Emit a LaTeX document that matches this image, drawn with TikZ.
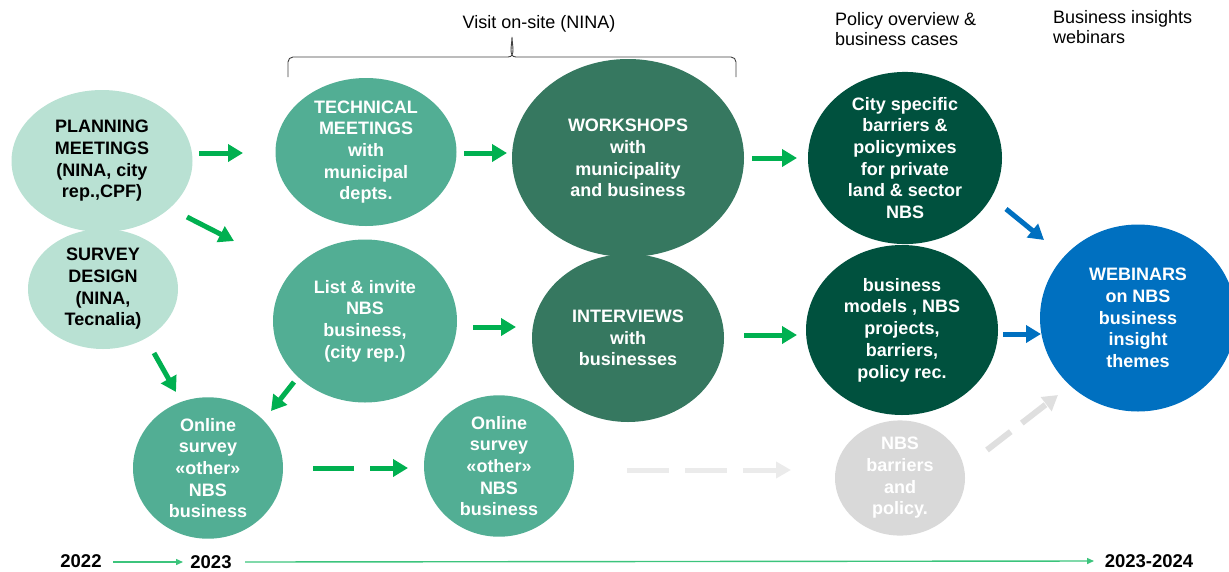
\documentclass[tikz,border=0pt]{standalone}
\usepackage{fontspec}
\setmainfont{Liberation Sans}
\usetikzlibrary{shapes.geometric,arrows.meta}
\definecolor{cLight}{HTML}{B9E1D3}
\definecolor{cMed}{HTML}{52AE94}
\definecolor{cDark}{HTML}{367860}
\definecolor{cDarkest}{HTML}{00513E}
\definecolor{cBlue}{HTML}{0070C0}
\definecolor{cGray}{HTML}{D9D9D9}
\definecolor{cArrow}{HTML}{00B050}
\definecolor{cTime}{HTML}{3CC47C}
\tikzset{
  blob/.style={ellipse, draw=none, inner sep=0pt, align=center,
    font=\fontsize{18}{21.7}\selectfont\bfseries},
  garrow/.style={draw=cArrow, line width=5pt, -{Triangle[length=15pt,width=17pt]}},
  barrow/.style={draw=cBlue, line width=5pt, -{Triangle[length=15pt,width=17pt]}},
  tarrow/.style={draw=cTime, line width=1.4pt, -{Triangle[length=7pt,width=6pt]}},
  hdr/.style={font=\fontsize{18}{20.5}\selectfont, align=left, anchor=north west, inner sep=0pt},
  year/.style={font=\fontsize{18.5}{22}\selectfont\bfseries, inner sep=0pt},
}
\begin{document}
\begin{tikzpicture}[x=1pt,y=-1pt]
\useasboundingbox (0,0) rectangle (1229,571);
% nodes
\node[blob, fill=cLight, minimum width=150pt, minimum height=120pt] (survey) at (103,289) {SURVEY\\DESIGN\\(NINA,\\Tecnalia)};
\node[blob, fill=cLight, minimum width=181pt, minimum height=142pt] (plan) at (102,161) {PLANNING\\MEETINGS\\(NINA, city\\rep.,CPF)};
\node[blob, fill=cMed, text=white, minimum width=181pt, minimum height=148pt] (tech) at (366,152) {TECHNICAL\\MEETINGS\\with\\municipal\\depts.};
\node[blob, fill=cMed, text=white, minimum width=184pt, minimum height=163pt] (list) at (365,321) {List \& invite\\NBS\\business,\\(city rep.)};
\node[blob, fill=cDark, text=white, minimum width=192pt, minimum height=168pt] (inter) at (628,338) {INTERVIEWS\\with\\businesses};
\node[blob, fill=cDark, text=white, minimum width=232pt, minimum height=198pt] (work) at (628,158) {WORKSHOPS\\with\\municipality\\and business};
\node[blob, fill=cMed, text=white, minimum width=150pt, minimum height=134pt] (on1) at (208,468) {Online\\survey\\«other»\\NBS\\business};
\node[blob, fill=cMed, text=white, minimum width=150pt, minimum height=136pt] (on2) at (499,466) {Online\\survey\\«other»\\NBS\\business};
\node[blob, fill=cDarkest, text=white, minimum width=192pt, minimum height=170pt] (bm) at (902,330) {business\\models , NBS\\projects,\\barriers,\\policy rec.};
\node[blob, fill=cDarkest, text=white, minimum width=194pt, minimum height=170pt] (city) at (905,158) {City specific\\barriers \&\\policymixes\\for private\\land \& sector\\NBS};
\node[blob, fill=cGray, text=white, minimum width=130pt, minimum height=114pt] (nbs) at (900,478) {NBS\\barriers\\and\\policy.};
\node[blob, fill=cBlue, text=white, minimum width=196pt, minimum height=187pt] (web) at (1138,318) {WEBINARS\\on NBS\\business\\insight\\themes};

% arrow end points
\coordinate (a1s) at (199,153); \coordinate (a1e) at (243,153);
\coordinate (a2s) at (187,217); \coordinate (a2e) at (234,241);
\coordinate (a3s) at (464,153); \coordinate (a3e) at (507,153);
\coordinate (a4s) at (752,158); \coordinate (a4e) at (797,158);
\coordinate (a5s) at (473,327); \coordinate (a5e) at (516,327);
\coordinate (a6s) at (744,335); \coordinate (a6e) at (797,335);
\coordinate (a7s) at (1006,209); \coordinate (a7e) at (1044,240);
\coordinate (a8s) at (1003,334); \coordinate (a8e) at (1041,334);
\coordinate (a9s) at (154,353); \coordinate (a9e) at (176,392);
\coordinate (a10s) at (294,382); \coordinate (a10e) at (271,411);
\coordinate (a11s) at (313,468); \coordinate (a11e) at (408,468);
\coordinate (a12s) at (627,470); \coordinate (a12e) at (791,470);
\coordinate (a13s) at (987,450); \coordinate (a13e) at (1058,395);

\draw[garrow] (a1s) -- (a1e);
\draw[garrow] (a2s) -- (a2e);
\draw[garrow] (a3s) -- (a3e);
\draw[garrow] (a4s) -- (a4e);
\draw[garrow] (a5s) -- (a5e);
\draw[garrow] (a6s) -- (a6e);
\draw[barrow] (a7s) -- (a7e);
\draw[barrow] (a8s) -- (a8e);
\draw[garrow] (a9s) -- (a9e);
\draw[garrow] (a10s) -- (a10e);
\draw[garrow, dash pattern=on 41pt off 16pt] (a11s) -- (a11e);
\draw[draw=black!8, line width=5pt, dash pattern=on 42pt off 16pt, -{Triangle[length=15pt,width=16pt]}] (a12s) -- (a12e);
\draw[draw=cGray!85, line width=6pt, dash pattern=on 30pt off 14pt, -{Triangle[length=15pt,width=17pt]}] (a13s) -- (a13e);

% bracket and headers
\coordinate (brL) at (288,77); \coordinate (brR) at (736,77);
\draw[black!75, line width=0.9pt] (brL) -- (288,62) to[out=90,in=180] (293,57) -- (508,57) to[out=0,in=-90] (512,37) to[out=-90,in=180] (516,57) -- (731,57) to[out=0,in=90] (736,62) -- (brR);
\node[font=\fontsize{18}{21}\selectfont, inner sep=0pt] (visit) at (539,24) {Visit on-site (NINA)};
\node[hdr] (pol) at (835,12) {Policy overview \&\\business cases};
\node[hdr] (bus) at (1053,10) {Business insights\\webinars};

% timeline
\node[year] (y22) at (81,561) {2022};
\node[year] (y23) at (211,562) {2023};
\node[year] (y24) at (1149,561) {2023-2024};
\coordinate (t1s) at (113,562); \coordinate (t1e) at (183,562);
\coordinate (t2s) at (245,562); \coordinate (t2e) at (1094,561);
\draw[tarrow] (t1s) -- (t1e);
\draw[tarrow] (t2s) -- (t2e);
\end{tikzpicture}
\end{document}
